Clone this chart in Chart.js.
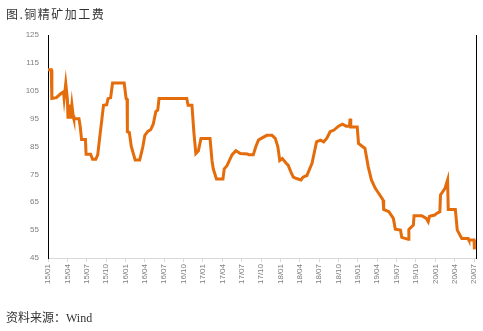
<!DOCTYPE html>
<html>
<head>
<meta charset="utf-8">
<script src="https://cdn.jsdelivr.net/npm/chart.js@4"></script>
<style>
  html, body { margin: 0; padding: 0; background: #fff; }
  #wrap { position: relative; width: 483px; height: 331px; }
  #title { position: absolute; left: 6px; top: 5px; font: 12px "Noto Sans CJK SC", sans-serif; letter-spacing: 1.5px; color: #333; }
  #source { position: absolute; left: 6px; top: 308px; font: 12px "Liberation Serif", "Noto Sans CJK SC", serif; color: #333; }
  canvas { position: absolute; left: 0; top: 0; }
</style>
</head>
<body>
<div id="wrap">
  <canvas id="tcChart" width="483" height="331"></canvas>
  <div id="title">图.铜精矿加工费</div>
  <div id="source">资料来源：Wind</div>
</div>
<script>
// months since 2015/01 and copper concentrate TC values
const months = [
    0, 0.5, 0.6, 1.3, 2.0, 2.4, 2.5, 2.6, 2.75, 3.0, 3.1, 3.3, 3.5, 3.7, 3.9, 4.0, 4.8, 5.0, 5.2, 5.8,
    5.9, 6.6, 6.9, 7.4, 7.7, 8.0, 8.6, 9.1, 9.3, 9.7, 10.0, 11.8, 12.1, 12.25, 12.3, 12.6, 12.9, 13.5, 14.2, 14.5,
    14.7, 15.0, 15.5, 15.9, 16.3, 16.7, 17.0, 17.2, 21.5, 21.7, 22.3, 22.6, 22.9, 23.3, 23.7, 25.1, 25.4, 25.6, 26.1, 27.1,
    27.3, 27.7, 28.5, 29.1, 29.8, 30.9, 31.1, 31.8, 32.2, 32.6, 33.1, 33.9, 34.7, 35.2, 35.6, 35.9, 36.3, 36.9, 37.2, 37.6,
    38.0, 38.5, 39.2, 39.5, 40.1, 40.9, 41.6, 42.2, 42.7, 43.2, 43.7, 44.3, 45.0, 45.6, 46.2, 46.7, 46.8, 46.9, 47.9, 48.1,
    49.1, 49.6, 50.1, 50.7, 51.4, 51.9, 52.0, 52.8, 53.5, 53.8, 54.6, 54.8, 55.8, 55.9, 56.6, 56.7, 57.9, 58.6, 58.9, 59.1,
    59.9, 60.2, 60.7, 60.8, 61.5, 61.9, 62.0, 63.1, 63.4, 64.1, 65.1, 65.2, 66.0, 66.05
];
const tcValues = [
    112.5, 112.5, 102.2, 102.5, 104, 104.6, 102.2, 102.2, 107.6, 102, 95, 100, 95, 100, 96, 95, 95, 92, 87.5, 87.5,
    82.2, 82.2, 80.4, 80.4, 82, 88, 99.8, 100, 102.2, 102.5, 107.8, 107.8, 102.2, 102, 90.3, 90, 85, 80.2, 80.2, 83,
    85, 89, 90.5, 91, 93, 97.5, 98, 102.2, 102.2, 99.8, 99.8, 90, 82.5, 83.5, 87.9, 87.9, 80, 77, 73.3, 73.3,
    77, 78, 82, 83.5, 82.5, 82.3, 82, 82, 85, 87.3, 88, 89, 89, 87.9, 85, 80, 80.7, 79, 78.3, 76,
    74, 73.5, 73, 74, 74.6, 79, 86.7, 87.3, 86.7, 88, 90.3, 90.9, 92.3, 93, 92.3, 92.3, 95, 92, 92, 86.1,
    84.3, 77.8, 73, 70, 67.6, 65.8, 62.4, 61.6, 59.2, 55.3, 55, 52.4, 51.7, 55.3, 56.8, 60.2, 60.2, 59.2, 58, 60,
    60.4, 61, 61.6, 67.6, 70, 73, 62.4, 62.4, 55, 52, 52, 51.5, 51.5, 48.1
];
const xTickLabels = [
    '15/01', '15/04', '15/07', '15/10', '16/01', '16/04', '16/07', '16/10', '17/01', '17/04', '17/07', '17/10',
    '18/01', '18/04', '18/07', '18/10', '19/01', '19/04', '19/07', '19/10', '20/01', '20/04', '20/07'
];
const yTicks = [45, 55, 65, 75, 85, 95, 105, 115, 125];

const tickFont = { family: 'Liberation Sans', size: 8 };
const tickColor = '#7f7f7f';

new Chart(document.getElementById('tcChart').getContext('2d'), {
    type: 'line',
    data: {
        datasets: [{
            data: months.map((m, i) => ({ x: m, y: tcValues[i] })),
            borderColor: '#E46C0A',
            borderWidth: 3,
            pointRadius: 0,
            tension: 0,
            fill: false
        }]
    },
    options: {
        responsive: false,
        animation: false,
        layout: { padding: { top: 35, right: 7, left: 0, bottom: 0 } },
        plugins: { legend: { display: false }, tooltip: { enabled: false } },
        scales: {
            x: {
                type: 'linear',
                min: 0,
                max: 66.3,
                afterFit: s => { s.height = 73; s.paddingLeft = 0; s.paddingRight = 0; },
                afterBuildTicks: s => { s.ticks = xTickLabels.map((_, i) => ({ value: i * 3 })); },
                grid: { drawOnChartArea: false, drawTicks: true, tickLength: 4, color: '#d9d9d9' },
                border: { color: '#d9d9d9', width: 1 },
                ticks: {
                    autoSkip: false,
                    minRotation: 90,
                    maxRotation: 90,
                    padding: 2,
                    font: tickFont,
                    color: tickColor,
                    callback: v => xTickLabels[Math.round(v / 3)]
                }
            },
            y: {
                min: 45,
                max: 125,
                afterFit: s => { s.width = 48; s.paddingTop = 0; s.paddingBottom = 0; },
                afterBuildTicks: s => { s.ticks = yTicks.map(v => ({ value: v })); },
                grid: { display: false, drawTicks: false },
                border: { color: '#000', width: 1 },
                ticks: { padding: 9, font: tickFont, color: tickColor }
            },
            y1: {
                position: 'right',
                min: 45,
                max: 125,
                afterFit: s => { s.width = 0; },
                grid: { display: false, drawTicks: false },
                border: { color: '#000', width: 1 },
                ticks: { display: false }
            }
        }
    }
});
</script>
</body>
</html>
